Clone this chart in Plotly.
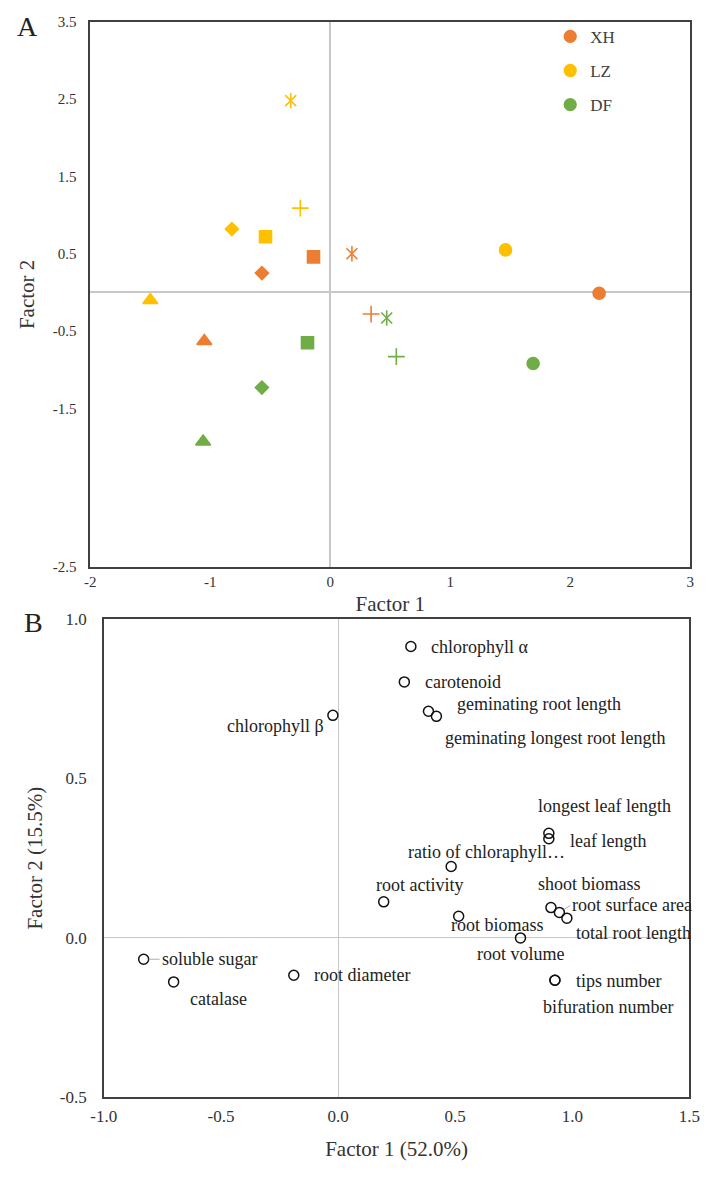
import plotly.graph_objects as go

# ---------------- Panel A data (factor scores) ----------------
sites = ["XH", "LZ", "DF"]
# point order per site: circle, square, diamond, triangle, asterisk, plus
xh_f1 = [2.24, -0.14, -0.57, -1.05, 0.18, 0.34]
xh_f2 = [-0.01, 0.46, 0.25, -0.63, 0.50, -0.28]
lz_f1 = [1.46, -0.54, -0.82, -1.50, -0.33, -0.25]
lz_f2 = [0.55, 0.72, 0.82, -0.10, 2.48, 1.09]
df_f1 = [1.69, -0.19, -0.57, -1.06, 0.47, 0.55]
df_f2 = [-0.92, -0.65, -1.23, -1.93, -0.33, -0.83]

a_xticks = [-2, -1, 0, 1, 2, 3]
a_xticktext = ["-2", "-1", "0", "1", "2", "3"]
a_yticks = [3.5, 2.5, 1.5, 0.5, -0.5, -1.5, -3.55]
a_yticktext = ["3.5", "2.5", "1.5", "0.5", "-0.5", "-1.5", "-2.5"]

# ---------------- Panel B data (loadings) ----------------
var_names = ["chlorophyll α", "carotenoid", "geminating root length",
             "geminating longest root length", "chlorophyll β",
             "longest leaf length", "leaf length", "ratio of chloraphyll…",
             "root activity", "shoot biomass", "root surface area",
             "total root length", "root biomass", "root volume",
             "tips number", "bifuration number", "soluble sugar",
             "catalase", "root diameter"]
load_f1 = [0.311, 0.283, 0.386, 0.420, -0.022, 0.900, 0.900, 0.483, 0.195,
           0.909, 0.945, 0.977, 0.515, 0.779, 0.926, 0.926, -0.830, -0.702,
           -0.189]
load_f2 = [0.914, 0.803, 0.711, 0.695, 0.698, 0.328, 0.311, 0.224, 0.113,
           0.095, 0.080, 0.062, 0.068, 0.000, -0.133, -0.133, -0.067, -0.138,
           -0.117]
b_xticks = [-1.0, -0.5, 0.0, 0.5, 1.0, 1.5]
b_xticktext = ["-1.0", "-0.5", "0.0", "0.5", "1.0", "1.5"]
b_yticks = [-0.5, 0.0, 0.5, 1.0]
b_yticktext = ["-0.5", "0.0", "0.5", "1.0"]

# ---------------- styles ----------------
site_colors = ["#ED7D31", "#FFC000", "#70AD47"]
symbols = ["circle", "square", "diamond", "triangle-up", "x-thin-open",
           "cross-thin-open"]
sizes = [12, 12, 10, 13, 11, 12]
# label offsets (px): dx right, dy down, anchor, leader line
lab_dx = [18, 19, 27, 7, -7, -13, 19, -45, -10, -15, 11, 7, -10, -45, 19, -14,
          16, 14, 18]
lab_dy = [1, 0, -7, 22, 11, -27, 2, -14, -17, -24, -7, 15, 9, 16, 1, 27, 0,
          17, 0]
lab_anchor = ["left"] * 19
lab_anchor[4] = "right"
lab_leader = [False] * 19
lab_leader[10] = True
lab_leader[16] = True

FONT = "Liberation Serif, Times New Roman, serif"
W, H = 711, 1187
TXT = "#333333"

fig = go.Figure()

site_f1 = [xh_f1, lz_f1, df_f1]
site_f2 = [xh_f2, lz_f2, df_f2]
for name, col, fx, fy in zip(sites, site_colors, site_f1, site_f2):
    fig.add_trace(go.Scatter(
        x=fx, y=fy, mode="markers", name=name, legendgroup=name,
        marker=dict(symbol=symbols, size=sizes, color=col, opacity=1,
                    line=dict(color=col, width=1.6)),
        xaxis="x", yaxis="y", hoverinfo="skip"))
    # vertical stroke that turns the x marker into an Excel-style asterisk
    fig.add_trace(go.Scatter(
        x=[fx[4]], y=[fy[4]], mode="markers", showlegend=False,
        legendgroup=name,
        marker=dict(symbol="line-ns-open", size=11, color=col, opacity=1,
                    line=dict(color=col, width=1.6)),
        xaxis="x", yaxis="y", hoverinfo="skip"))

fig.add_trace(go.Scatter(
    x=load_f1, y=load_f2, mode="markers", showlegend=False,
    marker=dict(symbol="circle-open", size=10, color="#111",
                line=dict(color="#111", width=1.5)),
    xaxis="x2", yaxis="y2", hoverinfo="skip"))

for name, fx, fy, dx, dy, anc, lead in zip(var_names, load_f1, load_f2,
                                           lab_dx, lab_dy, lab_anchor,
                                           lab_leader):
    font = dict(family=FONT, size=18, color="#222")
    if lead:
        fig.add_annotation(x=fx, y=fy, xref="x2", yref="y2", text=name,
                           showarrow=True, ax=dx, ay=dy, arrowhead=0,
                           arrowwidth=0.8, arrowcolor="#999", standoff=5,
                           xanchor=anc, yanchor="middle", font=font)
    else:
        fig.add_annotation(x=fx, y=fy, xref="x2", yref="y2", text=name,
                           showarrow=False, xanchor=anc, yanchor="middle",
                           xshift=dx, yshift=-dy, font=font)

axis_common = dict(showline=True, mirror=True, linecolor="#404040",
                   linewidth=1.5, showgrid=False, ticks="",
                   zeroline=True)

fig.update_layout(
    width=W, height=H,
    margin=dict(l=0, r=0, t=0, b=0),
    paper_bgcolor="white", plot_bgcolor="white",
    font=dict(family=FONT, color=TXT),
    showlegend=True,
    legend=dict(x=556 / W, y=1 - 10 / H, xanchor="left", yanchor="top",
                font=dict(family=FONT, size=17, color="#404040"),
                tracegroupgap=9, bgcolor="rgba(0,0,0,0)"),
    xaxis=dict(domain=[80 / W, 701 / W], range=[-2, 3], tickvals=a_xticks,
               ticktext=a_xticktext,
               zerolinecolor="#c8c8c8", zerolinewidth=1.5,
               tickfont=dict(size=15, family=FONT, color=TXT),
               title=dict(text="Factor 1", standoff=8,
                          font=dict(size=21, family=FONT, color=TXT)),
               anchor="y", **axis_common),
    yaxis=dict(domain=[1 - 567 / H, 1 - 13 / H], range=[-3.55, 3.5],
               tickvals=a_yticks, ticktext=a_yticktext,
               ticklabelstandoff=9,
               zerolinecolor="#c8c8c8", zerolinewidth=1.5,
               tickfont=dict(size=15, family=FONT, color=TXT),
               title=dict(text="Factor 2", standoff=12,
                          font=dict(size=21, family=FONT, color=TXT)),
               anchor="x", **axis_common),
    xaxis2=dict(domain=[94 / W, 700 / W], range=[-1, 1.5],
                tickvals=b_xticks, ticktext=b_xticktext,
                ticklabelstandoff=3,
                zerolinecolor="#c8c8c8", zerolinewidth=1,
                tickfont=dict(size=17, family=FONT, color=TXT),
                title=dict(text="Factor 1 (52.0%)", standoff=16,
                           font=dict(size=21, family=FONT, color=TXT)),
                anchor="y2", **axis_common),
    yaxis2=dict(domain=[1 - 1106 / H, 1 - 620 / H], range=[-0.5, 1.0],
                tickvals=b_yticks, ticktext=b_yticktext,
                ticklabelstandoff=12,
                zerolinecolor="#c8c8c8", zerolinewidth=1,
                tickfont=dict(size=17, family=FONT, color=TXT),
                title=dict(text="Factor 2 (15.5%)", standoff=11,
                           font=dict(size=21, family=FONT, color=TXT)),
                anchor="x2", **axis_common),
)

fig.add_annotation(x=2 / W, y=1 - 0 / H, xref="paper", yref="paper",
                   text="A", showarrow=False, xanchor="left", yanchor="top",
                   font=dict(family=FONT, size=28, color="#222"))
fig.add_annotation(x=9 / W, y=1 - 606 / H, xref="paper", yref="paper",
                   text="B", showarrow=False, xanchor="left", yanchor="top",
                   font=dict(family=FONT, size=28, color="#222"))

fig.write_html("out.html", config={"displayModeBar": False},
               post_script="document.body.style.margin='0';")
